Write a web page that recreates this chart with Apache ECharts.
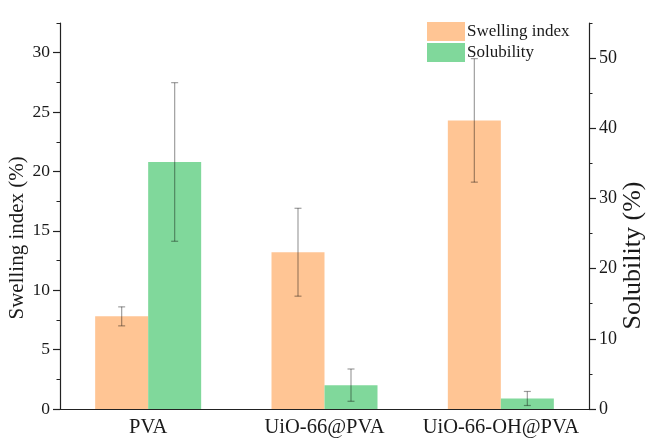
<!DOCTYPE html>
<html>
<head>
<meta charset="utf-8">
<script src="https://cdn.jsdelivr.net/npm/echarts@6/dist/echarts.min.js"></script>
<style>html,body{margin:0;padding:0;background:#fff}#c{width:649px;height:439px}</style>
</head>
<body>
<div id="c"></div>
<script>
const categories = ['PVA', 'UiO-66@PVA', 'UiO-66-OH@PVA'];
const swelling = [7.8, 13.2, 24.3];
const swellingErr = [0.8, 3.7, 5.2];
const solubility = [35.2, 3.4, 1.5];
const solubilityErr = [11.3, 2.3, 1.0];
const leftAxis = { max: 32.5, minor: 2.5, major: 5, labelMax: 30 };
const rightAxis = { max: 55, minor: 5, major: 10, labelMax: 50 };

const FONT = 'Liberation Serif';
const TXT = '#1a1a1a';
const ORANGE = '#FFC594';
const GREEN = '#80D89B';
const BAR_W = 53;
const G = { left: 60, right: 60, top: 23, bottom: 30 };
const H = 439 - G.top - G.bottom;

const chart = echarts.init(document.getElementById('c'), null, { renderer: 'canvas' });

function errSeries(name, vals, errs, yIdx, sign) {
  return {
    type: 'custom', name: name + ' err', xAxisIndex: 0, yAxisIndex: yIdx, z: 10,
    silent: true, legendHoverLink: false,
    data: categories.map((c, i) => [i, vals[i], errs[i]]),
    renderItem: function (params, api) {
      const i = api.value(0), v = api.value(1), e = api.value(2);
      const top = api.coord([i, v + e]);
      const bot = api.coord([i, v - e]);
      const x = top[0] + sign * BAR_W / 2;
      const st = { stroke: 'rgba(0,0,0,0.38)', lineWidth: 1.2 };
      return { type: 'group', children: [
        { type: 'line', shape: { x1: x, y1: top[1], x2: x, y2: bot[1] }, style: st },
        { type: 'line', shape: { x1: x - 3.5, y1: top[1], x2: x + 3.5, y2: top[1] }, style: st },
        { type: 'line', shape: { x1: x - 3.5, y1: bot[1], x2: x + 3.5, y2: bot[1] }, style: st }
      ]};
    }
  };
}

const leftTop = G.top + H * (leftAxis.max - leftAxis.labelMax) / leftAxis.max;
const rightTop = G.top + H * (rightAxis.max - rightAxis.labelMax) / rightAxis.max;
const gridBase = { left: G.left, right: G.right, bottom: G.bottom, containLabel: false, outerBoundsMode: 'none' };

const option = {
  backgroundColor: '#fff',
  animation: false,
  textStyle: { fontFamily: FONT },
  legend: {
    orient: 'vertical', left: 422, top: 17,
    itemWidth: 38, itemHeight: 19, itemGap: 2,
    icon: 'rect',
    data: ['Swelling index', 'Solubility'],
    textStyle: { fontFamily: FONT, fontSize: 17, color: TXT, padding: [0, 0, 0, -3] }
  },
  grid: [
    Object.assign({}, gridBase, { top: G.top }),
    Object.assign({}, gridBase, { top: leftTop }),
    Object.assign({}, gridBase, { top: rightTop })
  ],
  xAxis: [
    { type: 'category', gridIndex: 0, data: categories, boundaryGap: true,
      axisLine: { lineStyle: { color: '#222', width: 1.2 } },
      axisTick: { alignWithLabel: true, length: 6, lineStyle: { color: '#222' } },
      axisLabel: { fontFamily: FONT, fontSize: 20.5, color: TXT, margin: 8, interval: 0 },
      splitLine: { show: false } },
    { type: 'category', gridIndex: 0, data: categories, boundaryGap: true, position: 'bottom',
      axisLine: { show: false },
      axisTick: { length: 3, lineStyle: { color: '#222' } },
      axisLabel: { show: false }, splitLine: { show: false } },
    { type: 'category', gridIndex: 1, data: categories, show: false },
    { type: 'category', gridIndex: 2, data: categories, show: false }
  ],
  yAxis: [
    { type: 'value', gridIndex: 0, position: 'left', min: 0, max: leftAxis.max, interval: leftAxis.minor,
      axisLine: { show: true, lineStyle: { color: '#222', width: 1.2 } },
      axisTick: { show: true, length: 3.5, lineStyle: { color: '#222' } },
      axisLabel: { show: false }, splitLine: { show: false } },
    { type: 'value', gridIndex: 0, position: 'right', min: 0, max: rightAxis.max, interval: rightAxis.minor,
      axisLine: { show: true, lineStyle: { color: '#222', width: 1.2 } },
      axisTick: { show: true, length: 3.5, lineStyle: { color: '#222' } },
      axisLabel: { show: false }, splitLine: { show: false } },
    { type: 'value', gridIndex: 1, position: 'left', min: 0, max: leftAxis.labelMax, interval: leftAxis.major,
      name: 'Swelling index (%)', nameLocation: 'middle', nameGap: 32, nameRotate: 90, nameMoveOverlap: false,
      nameTextStyle: { fontFamily: FONT, fontSize: 21, color: TXT, padding: [0, 14, 0, 0] },
      axisLine: { show: false },
      axisTick: { show: true, inside: false, length: 7, lineStyle: { color: '#222', width: 1.2 } },
      axisLabel: { fontFamily: FONT, fontSize: 17.5, color: TXT, margin: 10 },
      splitLine: { show: false } },
    { type: 'value', gridIndex: 2, position: 'right', min: 0, max: rightAxis.labelMax, interval: rightAxis.major,
      name: 'Solubility (%)', nameLocation: 'middle', nameGap: 31, nameRotate: 90, nameMoveOverlap: false,
      nameTextStyle: { fontFamily: FONT, fontSize: 26, color: TXT, padding: [0, 44, 0, 0] },
      axisLine: { show: false },
      axisTick: { show: true, inside: false, length: 7, lineStyle: { color: '#222', width: 1.2 } },
      axisLabel: { fontFamily: FONT, fontSize: 18, color: TXT, margin: 10 },
      splitLine: { show: false } }
  ],
  series: [
    { name: 'Swelling index', type: 'bar', xAxisIndex: 0, yAxisIndex: 0, data: swelling,
      barWidth: BAR_W, barGap: '0%', itemStyle: { color: ORANGE } },
    { name: 'Solubility', type: 'bar', xAxisIndex: 0, yAxisIndex: 1, data: solubility,
      barWidth: BAR_W, barGap: '0%', itemStyle: { color: GREEN } },
    errSeries('Swelling index', swelling, swellingErr, 0, -1),
    errSeries('Solubility', solubility, solubilityErr, 1, 1)
  ]
};
chart.setOption(option);
</script>
</body>
</html>
